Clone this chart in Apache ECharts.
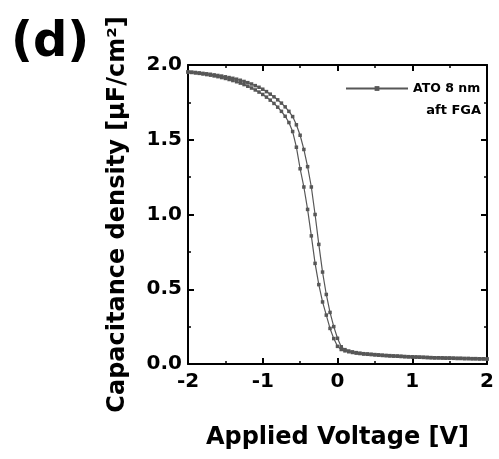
<!DOCTYPE html>
<html>
<head>
<meta charset="utf-8">
<script src="https://cdn.jsdelivr.net/npm/echarts@6/dist/echarts.min.js"></script>
<style>
	html, body { margin: 0; padding: 0; background: #fff; }
	#cv-chart { width: 499px; height: 459px; }
</style>
</head>
<body>
<div id="cv-chart"></div>
<script>
// applied voltage, one point every 0.05 V
var voltages = [ -2.00, -1.95, -1.90, -1.85, -1.80, -1.75, -1.70, -1.65, -1.60, -1.55,
		-1.50, -1.45, -1.40, -1.35, -1.30, -1.25, -1.20, -1.15, -1.10, -1.05,
		-1.00, -0.95, -0.90, -0.85, -0.80, -0.75, -0.70, -0.65, -0.60, -0.55,
		-0.50, -0.45, -0.40, -0.35, -0.30, -0.25, -0.20, -0.15, -0.10, -0.05,
		0.00, 0.05, 0.10, 0.15, 0.20, 0.25, 0.30, 0.35, 0.40, 0.45,
		0.50, 0.55, 0.60, 0.65, 0.70, 0.75, 0.80, 0.85, 0.90, 0.95,
		1.00, 1.05, 1.10, 1.15, 1.20, 1.25, 1.30, 1.35, 1.40, 1.45,
		1.50, 1.55, 1.60, 1.65, 1.70, 1.75, 1.80, 1.85, 1.90, 1.95, 2.00 ];

// left branch of the hysteresis loop [uF/cm2]
var capLeft = [ 1.952, 1.950, 1.947, 1.944, 1.940, 1.936, 1.932, 1.927, 1.922, 1.916,
		1.910, 1.903, 1.896, 1.888, 1.879, 1.869, 1.858, 1.846, 1.833, 1.819,
		1.803, 1.785, 1.765, 1.743, 1.718, 1.690, 1.657, 1.615, 1.555, 1.450,
		1.306, 1.184, 1.034, 0.857, 0.673, 0.531, 0.415, 0.327, 0.238, 0.170,
		0.118, 0.097, 0.088, 0.082, 0.077, 0.073, 0.070, 0.067, 0.065, 0.063,
		0.061, 0.059, 0.057, 0.056, 0.054, 0.053, 0.052, 0.050, 0.049, 0.048,
		0.047, 0.046, 0.045, 0.044, 0.043, 0.042, 0.041, 0.041, 0.040, 0.039,
		0.039, 0.038, 0.037, 0.037, 0.036, 0.036, 0.035, 0.035, 0.034, 0.034, 0.033 ];

// right branch of the hysteresis loop [uF/cm2]
var capRight = [ 1.954, 1.952, 1.950, 1.947, 1.944, 1.941, 1.938, 1.934, 1.930, 1.926,
		1.921, 1.916, 1.911, 1.905, 1.898, 1.890, 1.882, 1.873, 1.862, 1.851,
		1.838, 1.822, 1.805, 1.787, 1.767, 1.745, 1.720, 1.690, 1.655, 1.600,
		1.530, 1.435, 1.320, 1.184, 1.000, 0.800, 0.615, 0.465, 0.345, 0.250,
		0.172, 0.115, 0.096, 0.087, 0.081, 0.076, 0.072, 0.069, 0.067, 0.065,
		0.063, 0.061, 0.059, 0.057, 0.056, 0.054, 0.053, 0.052, 0.050, 0.049,
		0.048, 0.047, 0.046, 0.045, 0.044, 0.043, 0.042, 0.042, 0.041, 0.040,
		0.040, 0.039, 0.038, 0.038, 0.037, 0.037, 0.036, 0.036, 0.035, 0.035, 0.034 ];

var seriesName = 'ATO 8 nm';
var seriesNote = 'aft FGA';
var panelLabel = '(d)';

var fontName = '"DejaVu Sans", sans-serif';
var curveColor = '#575757';

function toPairs(xs, ys) {
	var pairs = [];
	xs.forEach(function(x, i) {
		pairs.push([ x, ys[i] ]);
	});
	return pairs;
}

function frameAxis(position, isX) {
	var axis = {
		type : 'value',
		position : position,
		min : isX ? -2 : 0,
		max : 2,
		interval : isX ? 1 : 0.5,
		axisLine : { show : true, onZero : false, lineStyle : { color : '#000', width : 2 } },
		axisTick : { show : true, inside : true, length : 6, lineStyle : { color : '#000', width : 2 } },
		minorTick : { show : true, splitNumber : 2, length : 3, lineStyle : { color : '#000', width : 1.5 } },
		axisLabel : { show : false },
		splitLine : { show : false }
	};
	return axis;
}

var bottomAxis = frameAxis('bottom', true);
bottomAxis.axisLabel = {
	show : true,
	margin : 8,
	color : '#000',
	fontFamily : fontName,
	fontWeight : 'bold',
	fontSize : 20
};
bottomAxis.name = 'Applied Voltage [V]';
bottomAxis.nameLocation = 'middle';
bottomAxis.nameGap = 62;
bottomAxis.nameTextStyle = { color : '#000', fontFamily : fontName, fontWeight : 'bold', fontSize : 24 };

var leftAxis = frameAxis('left', false);
leftAxis.axisLabel = {
	show : true,
	margin : 6,
	color : '#000',
	fontFamily : fontName,
	fontWeight : 'bold',
	fontSize : 20,
	formatter : function(v) {
		return v.toFixed(1);
	}
};
leftAxis.name = 'Capacitance density [μF/cm²]';
leftAxis.nameLocation = 'middle';
leftAxis.nameGap = 58;
leftAxis.nameTextStyle = { color : '#000', fontFamily : fontName, fontWeight : 'bold', fontSize : 24 };

function curve(ys) {
	return {
		name : seriesName,
		type : 'line',
		xAxisIndex : 0,
		yAxisIndex : 0,
		data : toPairs(voltages, ys),
		symbol : 'rect',
		symbolSize : 3.5,
		showSymbol : true,
		lineStyle : { color : curveColor, width : 1.2 },
		itemStyle : { color : curveColor },
		emphasis : { disabled : true }
	};
}

var option = {
	animation : false,
	grid : { left : 188, right : 12, top : 65, bottom : 95 },
	xAxis : [ bottomAxis, frameAxis('top', true) ],
	yAxis : [ leftAxis, frameAxis('right', false) ],
	legend : {
		left : 340,
		top : 77,
		itemWidth : 62,
		itemHeight : 6,
		itemGap : 5,
		data : [ seriesName ],
		textStyle : { color : '#000', fontFamily : fontName, fontWeight : 'bold', fontSize : 12.5 }
	},
	graphic : [ {
		type : 'text',
		left : 11,
		top : 20,
		style : { text : panelLabel, fill : '#000', font : 'bold 48px ' + fontName }
	}, {
		type : 'text',
		right : 18,
		top : 104,
		style : { text : seriesNote, fill : '#000', font : 'bold 13px ' + fontName }
	} ],
	series : [ curve(capLeft), curve(capRight) ]
};

var chart = echarts.init(document.getElementById('cv-chart'));
chart.setOption(option);
</script>
</body>
</html>
